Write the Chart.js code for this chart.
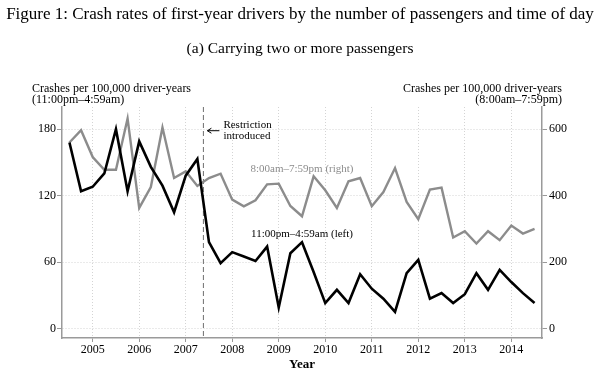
<!DOCTYPE html>
<html><head><meta charset="utf-8">
<script src="https://cdn.jsdelivr.net/npm/chart.js@4/dist/chart.umd.min.js"></script>
<style>html,body{margin:0;padding:0;background:#fff;}#wrap{width:600px;height:384px;}</style>
</head><body><div id="wrap"><canvas id="c" width="600" height="384"></canvas></div>
<script>
// ---- data ----
const quarters = [2004.5,2004.75,2005,2005.25,2005.5,2005.75,2006,2006.25,2006.5,2006.75,
  2007,2007.25,2007.5,2007.75,2008,2008.25,2008.5,2008.75,2009,2009.25,
  2009.5,2009.75,2010,2010.25,2010.5,2010.75,2011,2011.25,2011.5,2011.75,
  2012,2012.25,2012.5,2012.75,2013,2013.25,2013.5,2013.75,2014,2014.25,2014.5];
const nightRates = [168,124,128,140,180,124,169,146,129,105,
  138,153,78,59,69,65,61,74,19,68,
  78,51,23,35,23,49,36,27,15,50,
  62,27,32,23,31,50,35,53,42,32,23];
const dayRates = [560,597,516,478,478,632,363,426,605,453,
  473,429,453,466,388,368,386,434,436,369,
  338,458,416,363,443,453,368,411,483,381,
  329,418,424,274,293,256,293,266,310,286,300];
const yearTicks = [2005,2006,2007,2008,2009,2010,2011,2012,2013,2014];
const leftTicks = [0,60,120,180];
const rightTicks = [0,200,400,600];
const restrictionDate = 2007.38;

const SERIF = '"Liberation Serif", "Times New Roman", serif';
const GRAY = '#8c8c8c';

const annotations = {
  id: 'annotations',
  beforeDatasetsDraw(chart) {
    const {ctx, chartArea: ca, scales} = chart;
    const rx = scales.x.getPixelForValue(restrictionDate);
    ctx.save();
    ctx.strokeStyle = '#6e6e6e';
    ctx.lineWidth = 1;
    ctx.setLineDash([5, 3]);
    ctx.beginPath();
    ctx.moveTo(rx, ca.top);
    ctx.lineTo(rx, ca.bottom);
    ctx.stroke();
    ctx.restore();
  },
  afterDraw(chart) {
    const {ctx, chartArea: ca, scales} = chart;
    const x = scales.x, y = scales.y;
    const rx = x.getPixelForValue(restrictionDate);
    ctx.save();
    ctx.fillStyle = '#000';
    ctx.textBaseline = 'middle';
    // figure caption
    ctx.textAlign = 'center';
    ctx.font = '17px ' + SERIF;
    ctx.fillText('Figure 1: Crash rates of first-year drivers by the number of passengers and time of day', 300, 15);
    ctx.font = '15.5px ' + SERIF;
    ctx.fillText('(a) Carrying two or more passengers', 300, 49);
    // axis titles
    ctx.font = '12px ' + SERIF;
    ctx.textAlign = 'left';
    ctx.fillText('Crashes per 100,000 driver-years', 32, 89);
    ctx.fillText('(11:00pm\u20134:59am)', 32, 100);
    ctx.textAlign = 'right';
    ctx.fillText('Crashes per 100,000 driver-years', 562, 89);
    ctx.fillText('(8:00am\u20137:59pm)', 562, 100);
    // restriction annotation
    ctx.font = '11px ' + SERIF;
    ctx.textAlign = 'left';
    ctx.fillText('Restriction', rx + 20, y.getPixelForValue(183.5));
    ctx.fillText('introduced', rx + 20, y.getPixelForValue(174));
    const ay = y.getPixelForValue(178.6);
    ctx.strokeStyle = '#000';
    ctx.lineWidth = 1;
    ctx.beginPath();
    ctx.moveTo(rx + 4, ay); ctx.lineTo(rx + 16, ay);
    ctx.moveTo(rx + 8, ay - 2.5); ctx.lineTo(rx + 4, ay); ctx.lineTo(rx + 8, ay + 2.5);
    ctx.stroke();
    // series labels
    const cx = (ca.left + ca.right) / 2;
    ctx.textAlign = 'center';
    ctx.fillStyle = GRAY;
    ctx.fillText('8:00am\u20137:59pm (right)', cx, y.getPixelForValue(144));
    ctx.fillStyle = '#000';
    ctx.fillText('11:00pm\u20134:59am (left)', cx, y.getPixelForValue(85));
    ctx.restore();
  }
};

const bg = {
  id: 'bg',
  beforeDraw(chart) {
    const ctx = chart.ctx;
    ctx.save(); ctx.fillStyle = '#fff'; ctx.fillRect(0, 0, chart.width, chart.height); ctx.restore();
  }
};

const tickFont = {family: SERIF, size: 12};

new Chart(document.getElementById('c'), {
  type: 'line',
  data: {
    datasets: [
      {label: '11:00pm\u20134:59am (left)', data: quarters.map((q, i) => ({x: q, y: nightRates[i]})),
       borderColor: '#000', borderWidth: 2.6, pointRadius: 0, tension: 0, yAxisID: 'y'},
      {label: '8:00am\u20137:59pm (right)', data: quarters.map((q, i) => ({x: q, y: dayRates[i]})),
       borderColor: GRAY, borderWidth: 2.4, pointRadius: 0, tension: 0, yAxisID: 'y1'}
    ]
  },
  options: {
    responsive: false,
    animation: false,
    layout: {padding: {top: 107, left: 0, right: 0, bottom: 0}},
    plugins: {legend: {display: false}, tooltip: {enabled: false}, title: {display: false}},
    scales: {
      x: {
        type: 'linear', position: 'bottom', min: 2004.34, max: 2014.66,
        afterBuildTicks: s => { s.ticks = yearTicks.map(v => ({value: v})); },
        afterFit: s => { s.height = 46; },
        ticks: {font: tickFont, color: '#000', padding: 1, maxRotation: 0, autoSkip: false,
                callback: v => String(v)},
        grid: {color: '#d4d4d4', lineWidth: 1, drawTicks: true, tickLength: 4, tickColor: '#999'},
        border: {display: true, color: '#9a9a9a', width: 1.5, dash: [1, 2]},
        title: {display: true, text: 'Year', color: '#000',
                font: {family: SERIF, size: 13, weight: 'bold'}, padding: {top: 0, bottom: 12}}
      },
      y: {
        type: 'linear', position: 'left', min: -8.5, max: 200,
        afterBuildTicks: s => { s.ticks = leftTicks.map(v => ({value: v})); },
        afterFit: s => { s.width = 62; },
        ticks: {font: tickFont, color: '#000', padding: 1},
        grid: {color: '#d4d4d4', lineWidth: 1, drawTicks: true, tickLength: 5, tickColor: '#999'},
        border: {display: true, color: '#9a9a9a', width: 1.5, dash: [1, 2]}
      },
      y1: {
        type: 'linear', position: 'right', min: -28.33, max: 666.67,
        afterBuildTicks: s => { s.ticks = rightTicks.map(v => ({value: v})); },
        afterFit: s => { s.width = 58; },
        ticks: {font: tickFont, color: '#000', padding: 2},
        grid: {drawOnChartArea: false, drawTicks: true, tickLength: 5, tickColor: '#999'},
        border: {display: true, color: '#9a9a9a', width: 1.5}
      }
    }
  },
  plugins: [bg, annotations]
});
</script>
</body></html>
